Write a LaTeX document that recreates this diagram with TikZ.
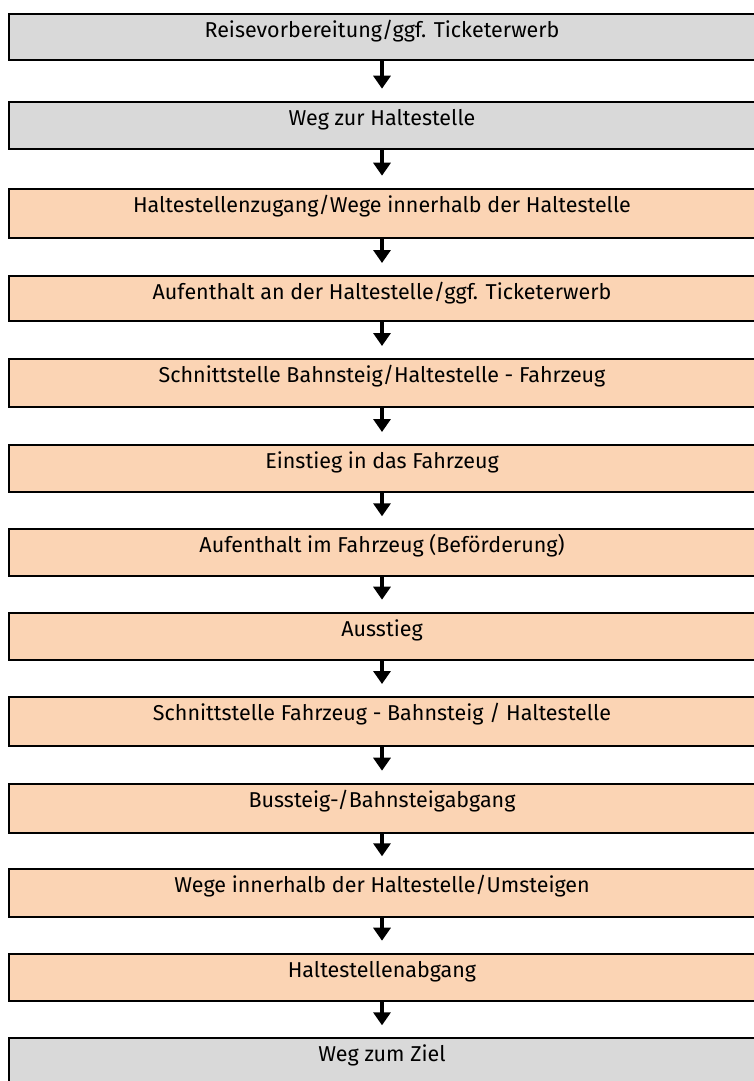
\documentclass[tikz,border=0pt]{standalone}
\usepackage{fontspec}
\setmainfont{Fira Sans}
\usetikzlibrary{arrows.meta}
\definecolor{stagegrey}{HTML}{D9D9D9}
\definecolor{stagepeach}{HTML}{FBD4B4}
\tikzset{
  stage/.style={draw, line width=2pt, anchor=north, outer sep=0pt,
    inner xsep=0pt, inner ysep=0pt, minimum width=746pt, text height=23.5pt,
    font=\fontsize{21.5}{25}\selectfont},
  flow/.style={line width=4pt, -{Triangle[width=17pt,length=13pt]}, shorten >=13pt},
}
\begin{document}
\begin{tikzpicture}[x=1pt,y=1pt]
  \useasboundingbox (0,0) rectangle (754,-1081);
  \clip (0,0) rectangle (754,-1081);
  % stages
  \node[stage, fill=stagegrey, text depth=22.8pt] (b1) at (382,-13.7) {Reisevorbereitung/ggf. Ticketerwerb};
  \node[stage, fill=stagegrey, text depth=23.8pt] (b2) at (382,-101.7) {Weg zur Haltestelle};
  \node[stage, fill=stagepeach, text depth=26.1pt] (b3) at (382,-188.7) {Haltestellenzugang/Wege innerhalb der Haltestelle};
  \node[stage, fill=stagepeach, text depth=21.2pt] (b4) at (382,-276) {Aufenthalt an der Haltestelle/ggf. Ticketerwerb};
  \node[stage, fill=stagepeach, text depth=24.2pt] (b5) at (382,-359) {Schnittstelle Bahnsteig/Haltestelle - Fahrzeug};
  \node[stage, fill=stagepeach, text depth=23.2pt] (b6) at (382,-445) {Einstieg in das Fahrzeug};
  \node[stage, fill=stagepeach, text depth=22.9pt] (b7) at (382,-529.3) {Aufenthalt im Fahrzeug (Beförderung)};
  \node[stage, fill=stagepeach, text depth=23.5pt] (b8) at (382,-612.7) {Ausstieg};
  \node[stage, fill=stagepeach, text depth=25.2pt] (b9) at (382,-697) {Schnittstelle Fahrzeug - Bahnsteig / Haltestelle};
  \node[stage, fill=stagepeach, text depth=25.8pt] (b10) at (382,-783.7) {Bussteig-/Bahnsteigabgang};
  \node[stage, fill=stagepeach, text depth=24.2pt] (b11) at (382,-869.3) {Wege innerhalb der Haltestelle/Umsteigen};
  \node[stage, fill=stagepeach, text depth=23.5pt] (b12) at (382,-953.7) {Haltestellenabgang};
  \node[stage, fill=stagegrey, text depth=26.8pt] (b13) at (382,-1038.3) {Weg zum Ziel};
  % arrows
  \draw[flow] (b1) -- (b2);
  \draw[flow] (b2) -- (b3);
  \draw[flow] (b3) -- (b4);
  \draw[flow] (b4) -- (b5);
  \draw[flow] (b5) -- (b6);
  \draw[flow] (b6) -- (b7);
  \draw[flow] (b7) -- (b8);
  \draw[flow] (b8) -- (b9);
  \draw[flow] (b9) -- (b10);
  \draw[flow] (b10) -- (b11);
  \draw[flow] (b11) -- (b12);
  \draw[flow] (b12) -- (b13);
\end{tikzpicture}
\end{document}
